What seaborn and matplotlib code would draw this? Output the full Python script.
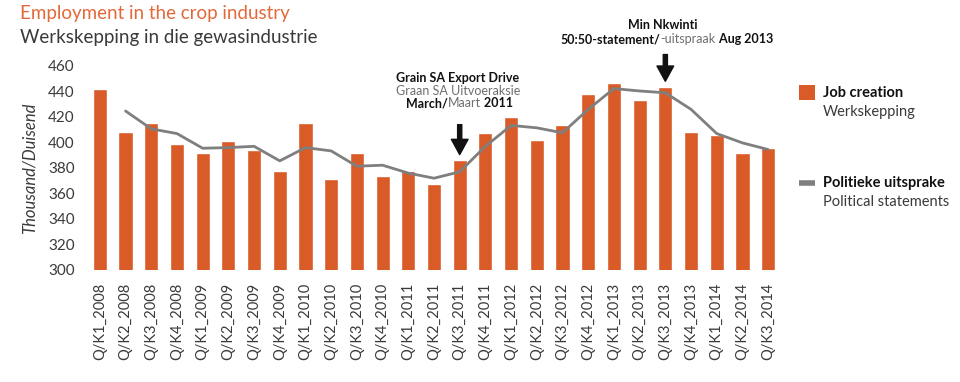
import numpy as np
import pandas as pd
import seaborn as sns
import matplotlib.pyplot as plt
from matplotlib.patches import Rectangle
from matplotlib.lines import Line2D

# quarters on the x axis
quarters = [
    "Q/K1_2008", "Q/K2_2008", "Q/K3_2008", "Q/K4_2008",
    "Q/K1_2009", "Q/K2_2009", "Q/K3_2009", "Q/K4_2009",
    "Q/K1_2010", "Q/K2_2010", "Q/K3_2010", "Q/K4_2010",
    "Q/K1_2011", "Q/K2_2011", "Q/K3_2011", "Q/K4_2011",
    "Q/K1_2012", "Q/K2_2012", "Q/K3_2012", "Q/K4_2012",
    "Q/K1_2013", "Q/K2_2013", "Q/K3_2013", "Q/K4_2013",
    "Q/K1_2014", "Q/K2_2014", "Q/K3_2014",
]

# job creation (thousand)
jobs = [442, 408, 415.5, 399, 392, 401, 394.5, 378, 415.5, 371.5, 391.5, 374,
        377.5, 367.5, 386, 407.5, 420, 402, 413.5, 438, 447, 433.5, 443.5,
        408.5, 406, 392, 395.5]

# political statements (smoothed line), no value for first quarter
statements = [np.nan, 424.7, 410.7, 407, 395.5, 396, 397, 385.6, 396, 393.4,
              381.4, 382.2, 376, 372, 377, 397, 413.4, 411.5, 407.6, 426,
              442.3, 440.4, 439, 426, 407, 399.7, 394.5]

yticks = list(range(300, 461, 20))

ORANGE = "#D95B27"
TITLE_ORANGE = "#E3683A"
GREY = "#7F7F7F"
DARK = "#3A3A3A"
FONT = "Lato"

df = pd.DataFrame({"quarter": quarters, "jobs": jobs, "statements": statements})
df["pos"] = np.arange(len(df))

W, H = 960, 382


def px(x, y):
    # pixel position -> figure fraction
    return x / W, 1 - y / H


sns.set_theme(style="white")
plt.rcParams["font.family"] = [FONT, "DejaVu Sans"]

fig = plt.figure(figsize=(9.6, 3.82), dpi=100)
ax = fig.add_axes([87 / W, 1 - 270 / H, (781 - 87) / W, (270 - 66) / H])

sns.barplot(data=df, x="quarter", y="jobs", color=ORANGE, saturation=1,
            width=0.55, ax=ax)
sns.lineplot(data=df.dropna(), x="pos", y="statements", color=GREY,
             linewidth=2, ax=ax)

ax.set_ylim(300, 460)
ax.set_yticks(yticks)
ax.set_xlim(-0.5, len(quarters) - 0.5)
ax.set_xlabel("")
ax.set_ylabel("")
sns.despine(ax=ax, left=True, bottom=True)
ax.tick_params(axis="y", length=0, pad=9, labelsize=11, labelcolor=DARK)
ax.tick_params(axis="x", length=0, pad=9, labelsize=10.5, labelcolor=DARK)
ax.set_xticks(range(len(quarters)))
ax.set_xticklabels(quarters, rotation=90, ha="center", va="top")

# titles
fig.text(*px(20, 14), "Employment in the crop industry", color=TITLE_ORANGE,
         fontsize=13.5, va="center", ha="left")
fig.text(*px(20, 37), "Werkskepping in die gewasindustrie", color=DARK,
         fontsize=13.5, va="center", ha="left")
fig.text(*px(30, 168), "Thousand/Duisend", color=DARK, fontsize=12,
         style="italic", rotation=90, va="center", ha="center")

# annotation: Grain SA export drive
fig.text(*px(458, 78), "Grain SA Export Drive", color="#111111",
         fontsize=9, fontweight="bold", ha="center", va="center")
fig.text(*px(458, 91), "Graan SA Uitvoeraksie", color="#6E6E6E",
         fontsize=9, ha="center", va="center")
mid = fig.text(*px(464, 103), "Maart", color="#6E6E6E", fontsize=9,
               ha="center", va="center")
ax.annotate("March/", xy=(0, 0), xycoords=mid, ha="right", va="bottom",
            fontsize=9, fontweight="bold", color="#111111")
ax.annotate(" 2011", xy=(1, 0), xycoords=mid, ha="left", va="bottom",
            fontsize=9, fontweight="bold", color="#111111")
ax.annotate("", xy=(14, 390.5), xytext=(14, 414),
            arrowprops=dict(facecolor="#111111", edgecolor="#111111",
                            width=3, headwidth=12, headlength=11))

# annotation: Min Nkwinti
fig.text(*px(663, 25), "Min Nkwinti", color="#111111", fontsize=9,
         fontweight="bold", ha="center", va="center")
mid2 = fig.text(*px(688, 39), "-uitspraak", color="#6E6E6E", fontsize=9,
                ha="center", va="center")
ax.annotate("50:50-statement/", xy=(0, 0), xycoords=mid2, ha="right",
            va="bottom", fontsize=9, fontweight="bold", color="#111111")
ax.annotate(" Aug 2013", xy=(1, 0), xycoords=mid2, ha="left", va="bottom",
            fontsize=9, fontweight="bold", color="#111111")
ax.annotate("", xy=(22, 448), xytext=(22, 469), annotation_clip=False,
            arrowprops=dict(facecolor="#111111", edgecolor="#111111",
                            width=3, headwidth=12, headlength=11))

# legend drawn by hand
x0, y0 = px(799, 100)
fig.add_artist(Rectangle((x0, y0), 16 / W, 15 / H, transform=fig.transFigure,
                         facecolor=ORANGE, edgecolor="none"))
lx = [799 / W, 815 / W]
ly = 1 - 183 / H
fig.add_artist(Line2D(lx, [ly, ly], transform=fig.transFigure, color=GREY,
                      linewidth=4, solid_capstyle="butt"))
fig.text(*px(823, 93), "Job creation", fontsize=10.5, fontweight="bold",
         color="#111111", va="center")
fig.text(*px(823, 112), "Werkskepping", fontsize=10.5, color=DARK, va="center")
fig.text(*px(823, 183), "Politieke uitsprake", fontsize=10.5,
         fontweight="bold", color="#111111", va="center")
fig.text(*px(823, 202), "Political statements", fontsize=10.5, color=DARK,
         va="center")

fig.savefig("out.png", dpi=100, facecolor="white")
